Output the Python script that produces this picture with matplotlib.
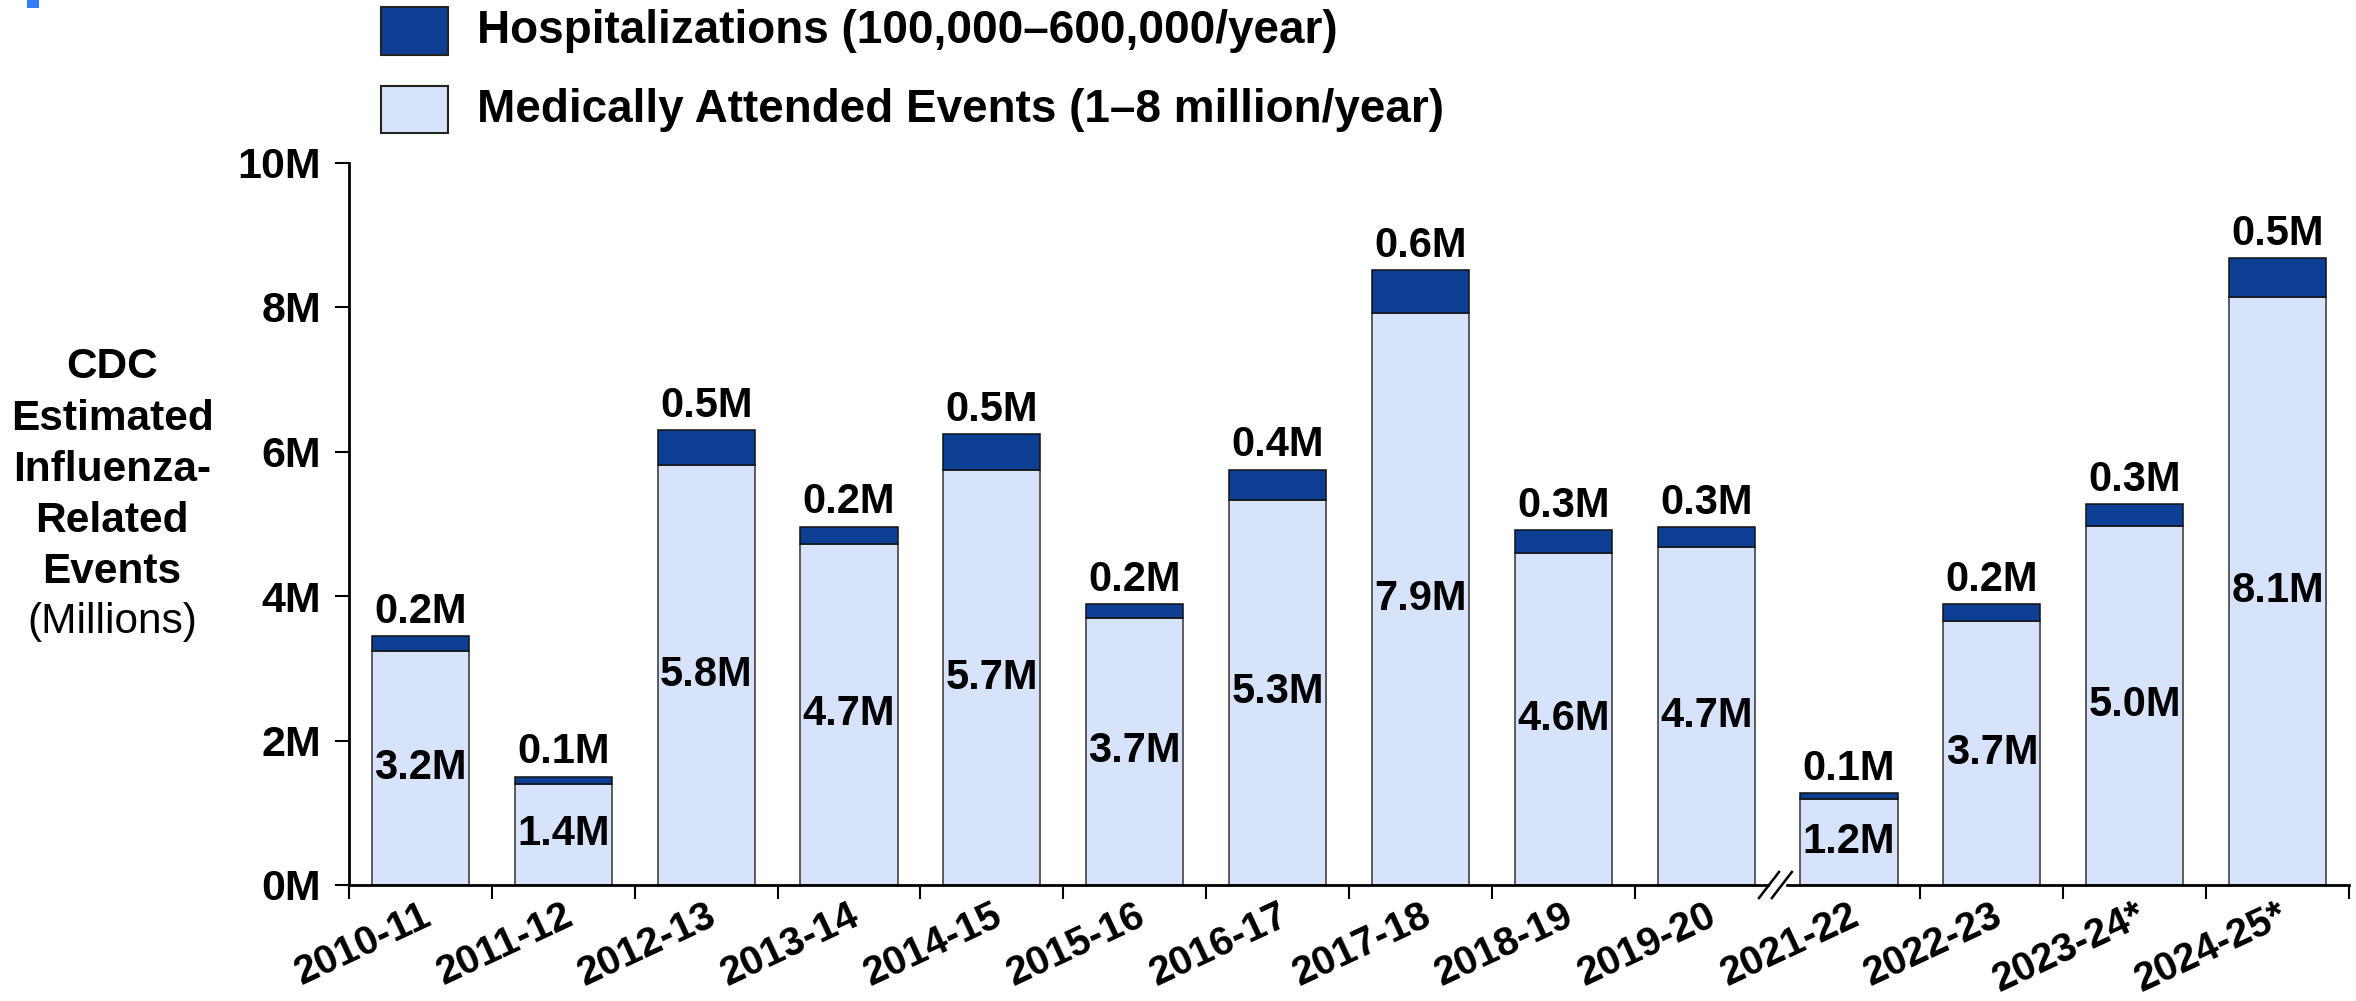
import matplotlib
matplotlib.use("Agg")
import matplotlib.pyplot as plt
from matplotlib.patches import Rectangle
from matplotlib.lines import Line2D

plt.rcParams['font.family'] = ['Liberation Sans', 'DejaVu Sans']
plt.rcParams['font.weight'] = 'bold'

# --- data (millions of events per season) ---
seasons = ['2010-11', '2011-12', '2012-13', '2013-14', '2014-15', '2015-16',
           '2016-17', '2017-18', '2018-19', '2019-20', '2021-22', '2022-23',
           '2023-24*', '2024-25*']
medically_attended = [3.24, 1.40, 5.81, 4.72, 5.74, 3.70, 5.33, 7.92,
                      4.60, 4.68, 1.19, 3.66, 4.97, 8.14]
hospitalizations = [0.21, 0.10, 0.49, 0.24, 0.50, 0.19, 0.42, 0.59,
                    0.31, 0.27, 0.08, 0.23, 0.30, 0.54]
y_ticks = [0, 2, 4, 6, 8, 10]
legend_labels = ['Hospitalizations (100,000\u2013600,000/year)',
                 'Medically Attended Events (1\u20138 million/year)']
ylabel_lines = ['CDC', 'Estimated', 'Influenza-', 'Related', 'Events']
ylabel_unit = '(Millions)'

DARK = '#0d3f94'
LIGHT = '#d6e3fa'
W, H = 2356, 1001

fig = plt.figure(figsize=(W / 100, H / 100), dpi=100)
ax = fig.add_axes([349 / W, 1 - 885 / H, 2000 / W, (885 - 162.5) / H])

x = list(range(len(seasons)))
bw = 0.68
ax.bar(x, medically_attended, width=bw, color=LIGHT, edgecolor='#333333',
       linewidth=1.1, zorder=2)
ax.bar(x, hospitalizations, width=bw, bottom=medically_attended, color=DARK,
       edgecolor='#111111', linewidth=1.1, zorder=2)

for xi, m, h in zip(x, medically_attended, hospitalizations):
    ax.text(xi, m / 2, f'{m:.1f}M', ha='center', va='center', fontsize=30,
            fontweight='bold', zorder=3)
    ax.annotate(f'{h:.1f}M', (xi, m + h), xytext=(0, 3),
                textcoords='offset points', ha='center', va='bottom',
                fontsize=30, fontweight='bold')

ax.set_xlim(-0.5, len(seasons) - 0.5)
ax.set_ylim(0, 10)
ax.set_yticks(y_ticks)
ax.set_yticklabels([f'{t}M' for t in y_ticks], fontsize=31, fontweight='bold')
ax.tick_params(axis='y', direction='out', length=10, width=1.5, pad=10)

# category labels at centres, tick marks on the boundaries (skip the gap)
ax.set_xticks(x)
ax.set_xticklabels(seasons, rotation=25, ha='right', va='top',
                   rotation_mode='anchor', fontsize=29, fontweight='bold')
ax.tick_params(axis='x', which='major', length=0, pad=8)
break_pos = 9.5
bounds = [b - 0.5 for b in range(len(seasons) + 1) if b - 0.5 != break_pos]
ax.set_xticks(bounds, minor=True)
ax.tick_params(axis='x', which='minor', direction='out', length=10, width=1.5)

for s in ('top', 'right'):
    ax.spines[s].set_visible(False)
for s in ('left', 'bottom'):
    ax.spines[s].set_linewidth(2)

# axis break marks
tr = ax.get_xaxis_transform()
ax.add_patch(Rectangle((break_pos - 0.05, -0.06), 0.1, 0.12, transform=tr,
                       color='white', clip_on=False, zorder=4))
for dx in (-0.06, 0.03):
    ax.add_line(Line2D([break_pos + dx - 0.07, break_pos + dx + 0.07],
                       [-0.018, 0.018], transform=tr, color='black', lw=1.8,
                       clip_on=False, zorder=5))

# y-axis title
line_y = [367, 419, 470, 521, 572]
for txt, yy in zip(ylabel_lines, line_y):
    fig.text(112 / W, 1 - yy / H, txt, ha='center', va='center',
             fontsize=30.5, fontweight='bold')
fig.text(112 / W, 1 - 622 / H, ylabel_unit, ha='center', va='center',
         fontsize=30.5, fontweight='normal')

# legend drawn by hand at the top
for (y0, y1), col, lab in zip([(7, 55), (86, 133)], [DARK, LIGHT], legend_labels):
    fig.patches.append(Rectangle((381 / W, 1 - y1 / H), 67 / W, (y1 - y0) / H,
                                 transform=fig.transFigure, facecolor=col,
                                 edgecolor='#222222', linewidth=1.5))
    fig.text(477 / W, 1 - (y0 + y1) / 2 / H, lab, ha='left', va='center',
             fontsize=33, fontweight='bold')

# small marker in the top-left corner
fig.patches.append(Rectangle((27 / W, 1 - 8 / H), 12 / W, 8 / H,
                             transform=fig.transFigure, facecolor='#2f7cf6',
                             edgecolor='none'))

fig.savefig('out.png', dpi=100)
